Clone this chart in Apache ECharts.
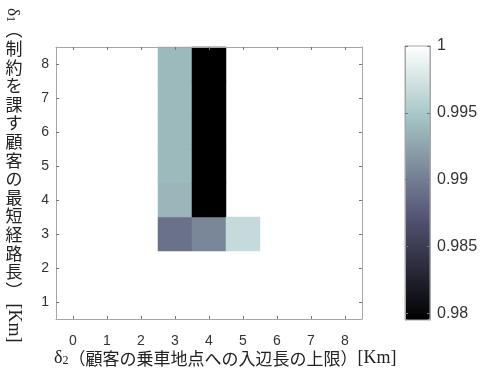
<!DOCTYPE html>
<html>
<head>
<meta charset="utf-8">
<script src="https://cdn.jsdelivr.net/npm/echarts@6/dist/echarts.min.js"></script>
<style>
  html, body { margin: 0; padding: 0; background: #ffffff; }
  #chart { width: 484px; height: 369px; }
</style>
</head>
<body>
<div id="chart"></div>
<script>
// δ2 (upper limit of boarding-edge length) and δ1 (shortest-route length) categories
const xCats = ['0', '1', '2', '3', '4', '5', '6', '7', '8'];
const yCats = ['1', '2', '3', '4', '5', '6', '7', '8'];

// Filled cells, listed by δ2 column; rows run δ1 = 3, 4, 5, ...
const rowsFrom3 = ['3', '4', '5', '6', '7', '8'];
const colD2_3 = [0.9892, 0.9937, 0.9939, 0.9939, 0.9939, 0.9939];
const colD2_4 = [0.9906, 0.9795, 0.9795, 0.9795, 0.9795, 0.9795];
const colD2_5 = [0.9966];

// Colour scale
const cMin = 0.9795;
const cMax = 1;
const cbTicks = [0.98, 0.985, 0.99, 0.995, 1];

// "bone" colour map: grey with a blue tint, piecewise linear with knots at 3/8 and 6/8
function bone(t) {
  const clamp = v => Math.max(0, Math.min(1, v));
  const hr = clamp(t / 0.375);
  const hg = clamp((t - 0.375) / 0.375);
  const hb = clamp((t - 0.75) / 0.25);
  const r = (7 * t + hb) / 8, g = (7 * t + hg) / 8, b = (7 * t + hr) / 8;
  return 'rgb(' + [r, g, b].map(v => Math.round(v * 255)).join(',') + ')';
}
const boneColors = [];
for (let k = 0; k <= 8; k++) boneColors.push(bone(k / 8));

const cells = [];
colD2_3.forEach((v, i) => cells.push(['3', rowsFrom3[i], v]));
colD2_4.forEach((v, i) => cells.push(['4', rowsFrom3[i], v]));
colD2_5.forEach((v, i) => cells.push(['5', rowsFrom3[i], v]));

const frameGray = '#a6a6a6';
const tickGray = '#777777';
const labelColor = '#333333';
const textColor = '#222222';
const sansFont = '"Liberation Sans", Arial, sans-serif';
const serifFont = '"Liberation Serif", "DejaVu Serif", serif';
const cjkFont = '"Noto Sans CJK JP", sans-serif';

function catAxis(data, position, withLabels, margin) {
  return {
    type: 'category',
    data: data,
    gridIndex: 0,
    position: position,
    z: 4,
    axisLine: { show: true, lineStyle: { color: frameGray, width: 1 } },
    axisTick: { show: true, inside: true, alignWithLabel: true, length: 3, lineStyle: { color: tickGray } },
    axisLabel: { show: withLabels, color: labelColor, fontSize: 14, fontFamily: sansFont, margin: margin },
    splitLine: { show: false }
  };
}

function cbAxis(position, withLabels) {
  return {
    type: 'value',
    gridIndex: 1,
    min: cMin,
    max: cMax,
    position: position,
    z: 6,
    axisLine: { show: true, lineStyle: { color: frameGray, width: 1 } },
    axisTick: { show: true, inside: true, length: 3, customValues: cbTicks, lineStyle: { color: tickGray } },
    axisLabel: { show: withLabels, customValues: cbTicks, color: labelColor, fontSize: 16, fontFamily: sansFont, margin: 7 },
    splitLine: { show: false }
  };
}

// Vertical (top-to-bottom) y-axis title
const yTitleChars = '︵制約を課す顧客の最短経路長︶'.split('');
const yTitleStep = 18.6;
const yTitleTop = 30;
const graphics = [];
graphics.push({
  type: 'text', x: 14, y: 15, rotation: -Math.PI / 2,
  style: {
    text: '{a|δ}{s|1}', align: 'center', verticalAlign: 'middle', fill: textColor,
    rich: {
      a: { fontFamily: serifFont, fontSize: 17, lineHeight: 20, verticalAlign: 'bottom', fill: textColor },
      s: { fontFamily: serifFont, fontSize: 12, lineHeight: 18, verticalAlign: 'bottom', fill: textColor }
    }
  }
});
yTitleChars.forEach((ch, i) => {
  graphics.push({
    type: 'text', x: 14, y: yTitleTop + i * yTitleStep,
    style: { text: ch, font: '17px ' + cjkFont, fill: textColor, align: 'center', verticalAlign: 'middle' }
  });
});
graphics.push({
  type: 'text', x: 14, y: yTitleTop + yTitleChars.length * yTitleStep + 14, rotation: -Math.PI / 2,
  style: { text: '[Km]', font: '18px ' + serifFont, fill: textColor, align: 'center', verticalAlign: 'middle' }
});
// Horizontal x-axis title
graphics.push({
  type: 'text', x: 54, y: 356,
  style: {
    text: '{a|δ}{s|2}{b|（顧客の乗車地点への入辺長の上限）}{a|[Km]}',
    verticalAlign: 'middle',
    fill: textColor,
    rich: {
      a: { fontFamily: serifFont, fontSize: 18, lineHeight: 22, verticalAlign: 'bottom', fill: textColor },
      s: { fontFamily: serifFont, fontSize: 12, lineHeight: 18, verticalAlign: 'bottom', fill: textColor },
      b: { fontFamily: cjkFont, fontSize: 17, lineHeight: 22, verticalAlign: 'bottom', fill: textColor }
    }
  }
});

const chart = echarts.init(document.getElementById('chart'), null, { renderer: 'canvas' });
chart.setOption({
  backgroundColor: '#ffffff',
  animation: false,
  grid: [
    { left: 56, top: 47, width: 306, height: 272 },
    { left: 405, top: 46, width: 25, height: 274, show: true, z: 5, backgroundColor: 'transparent', borderColor: frameGray, borderWidth: 1 }
  ],
  xAxis: [
    catAxis(xCats, 'bottom', true, 15),
    catAxis(xCats, 'top', false, 8),
    { type: 'category', gridIndex: 1, data: [''], show: false }
  ],
  yAxis: [
    catAxis(yCats, 'left', true, 7),
    catAxis(yCats, 'right', false, 8),
    cbAxis('right', true),
    cbAxis('left', false)
  ],
  visualMap: {
    type: 'continuous',
    min: cMin,
    max: cMax,
    seriesIndex: 0,
    calculable: false,
    orient: 'vertical',
    left: 400,
    top: 41,
    padding: 5,
    itemWidth: 25,
    itemHeight: 274,
    text: null,
    showLabel: false,
    hoverLink: false,
    z: 1,
    inRange: { color: boneColors }
  },
  graphic: graphics,
  series: [{
    type: 'heatmap',
    xAxisIndex: 0,
    yAxisIndex: 0,
    data: cells,
    itemStyle: { borderWidth: 0 },
    emphasis: { disabled: true },
    label: { show: false }
  }]
});
</script>
</body>
</html>
